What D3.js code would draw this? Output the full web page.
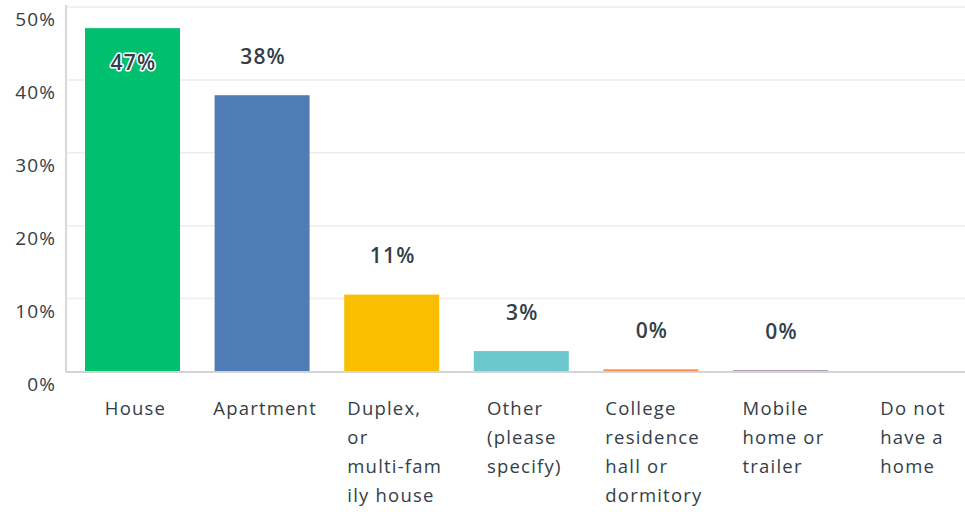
<!DOCTYPE html>
<html>
<head>
<meta charset="utf-8">
<script src="https://cdn.jsdelivr.net/npm/d3@7"></script>
<style>
  html, body { margin: 0; padding: 0; background: #fff; }
  svg { display: block; }
</style>
</head>
<body>
<svg id="chart" width="965" height="512"></svg>
<script>
const categories = ["House", "Apartment", "Duplex, or multi-family house", "Other (please specify)",
  "College residence hall or dormitory", "Mobile home or trailer", "Do not have a home"];
const labelLines = [["House"], ["Apartment"], ["Duplex,", "or", "multi-fam", "ily house"],
  ["Other", "(please", "specify)"], ["College", "residence", "hall or", "dormitory"],
  ["Mobile", "home or", "trailer"], ["Do not", "have a", "home"]];
const values = [47.1, 37.9, 10.55, 2.8, 0.3, 0.15, 0];
const colors = ["#00bf6f", "#507cb6", "#f9be00", "#6bc8cd", "#ff8b4f", "#7d5e90", "#9da5ad"];
const yTicks = [0, 10, 20, 30, 40, 50];

const svg = d3.select("#chart");
const left = 66, right = 965, baseY = 371.5, topY = 7;
const font = "'Open Sans', sans-serif";
const textColor = "#333e48";

const y = d3.scaleLinear().domain([0, 50]).range([baseY, topY]);
const x = d3.scaleBand().domain(categories).range([67.7, 974.9])
  .paddingInner(0.267).paddingOuter(0.1335);

// gridlines
svg.append("g").selectAll("line").data(yTicks.filter(t => t > 0)).join("line")
  .attr("x1", left).attr("x2", right)
  .attr("y1", d => y(d)).attr("y2", d => y(d))
  .attr("stroke", "#ededed").attr("stroke-width", 1.5);

// y tick labels
svg.append("g").selectAll("text").data(yTicks).join("text")
  .attr("x", 56).attr("y", d => y(d) + 14)
  .attr("text-anchor", "end").attr("dominant-baseline", "middle")
  .attr("font-family", font).attr("font-size", 19).attr("letter-spacing", 1.1)
  .attr("fill", textColor)
  .text(d => d + "%");

// bars
svg.append("g").selectAll("rect").data(values).join("rect")
  .attr("x", (d, i) => x(categories[i]))
  .attr("width", x.bandwidth())
  .attr("y", d => y(d))
  .attr("height", d => baseY - y(d))
  .attr("fill", (d, i) => colors[i]);

// axes lines
svg.append("line").attr("x1", left).attr("x2", left).attr("y1", topY - 2).attr("y2", baseY + 1)
  .attr("stroke", "#d8d8d8").attr("stroke-width", 2);
svg.append("line").attr("x1", left).attr("x2", right).attr("y1", baseY + 0.5).attr("y2", baseY + 0.5)
  .attr("stroke", "#d4d4d4").attr("stroke-width", 2);

// value labels
const vl = svg.append("g").selectAll("g").data(values.map((v, i) => ({v, i})).filter(d => d.i < 6)).join("g");
vl.each(function(d) {
  const g = d3.select(this);
  const cx = x(categories[d.i]) + x.bandwidth() / 2 + 1;
  const above = y(d.v) - 37;
  const inside = above < 20;
  const ty = inside ? y(d.v) + 36 : above;
  const label = Math.round(d.v) + "%";
  const mk = (sel) => sel.attr("x", cx).attr("y", ty)
      .attr("text-anchor", "middle").attr("dominant-baseline", "middle")
      .attr("font-family", font).attr("font-weight", 600).attr("font-size", 21)
      .attr("letter-spacing", 1.2).text(label);
  if (inside) {
    mk(g.append("text")).attr("fill", "none").attr("stroke", "#fff")
      .attr("stroke-width", 3).attr("stroke-linejoin", "round");
  }
  mk(g.append("text")).attr("fill", textColor);
});

// x labels
categories.forEach((c, i) => {
  const cx = x(c) + x.bandwidth() / 2;
  const t = svg.append("text")
    .attr("font-family", font).attr("font-size", 18.5).attr("letter-spacing", 1.2)
    .attr("fill", textColor);
  labelLines[i].forEach((ln, j) => {
    t.append("tspan").attr("y", 415 + j * 29).text(ln);
  });
  const w = d3.max(t.selectAll("tspan").nodes(), n => n.getComputedTextLength());
  t.selectAll("tspan").attr("x", cx - w / 2 + 3);
});
</script>
</body>
</html>
